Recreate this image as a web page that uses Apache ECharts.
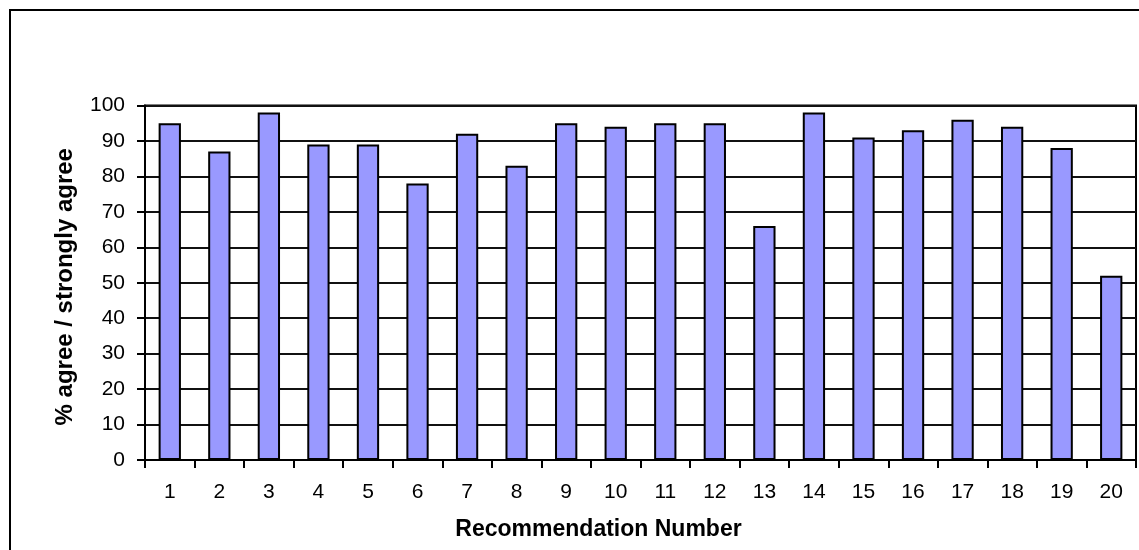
<!DOCTYPE html>
<html>
<head>
<meta charset="utf-8">
<script src="https://cdn.jsdelivr.net/npm/echarts@6/dist/echarts.min.js"></script>
<style>
  html, body { margin: 0; padding: 0; background: #fff; }
  #chart { width: 1139px; height: 550px; }
</style>
</head>
<body>
<div id="chart"></div>
<script>
// Recommendation numbers along the x axis
const recommendations = ['1','2','3','4','5','6','7','8','9','10','11','12','13','14','15','16','17','18','19','20'];
// Share of respondents who agree or strongly agree (%)
const agreePct = [95, 87, 98, 89, 89, 78, 92, 83, 95, 94, 95, 95, 66, 98, 91, 93, 96, 94, 88, 52];
// Value axis range
const yMin = 0, yMax = 100, yStep = 10;

const chart = echarts.init(document.getElementById('chart'), null, { renderer: 'canvas' });
const font = 'Arial, "Liberation Sans", sans-serif';

chart.setOption({
  animation: false,
  backgroundColor: '#fff',
  graphic: [{
    type: 'rect',
    shape: { x: 10, y: 10, width: 1200, height: 600 },
    style: { fill: 'none', stroke: '#000', lineWidth: 2 },
    silent: true
  }],
  grid: {
    left: 145, right: 3, top: 105.5, bottom: 90,
    outerBoundsMode: 'none',
    containLabel: false,
    show: true, borderColor: '#000', borderWidth: 2, backgroundColor: 'transparent'
  },
  xAxis: {
    type: 'category',
    data: recommendations,
    name: 'Recommendation Number',
    nameLocation: 'middle',
    nameGap: 58,
    nameTextStyle: { fontFamily: font, fontWeight: 'bold', fontSize: 23, color: '#000', padding: [0, 84, 0, 0] },
    axisLine: { lineStyle: { color: '#000', width: 2 } },
    axisTick: { show: true, alignWithLabel: false, length: 8, lineStyle: { color: '#000', width: 2 } },
    axisLabel: { fontFamily: font, fontSize: 21, color: '#000', margin: 22 },
    splitLine: { show: false }
  },
  yAxis: {
    type: 'value',
    min: yMin, max: yMax, interval: yStep,
    name: '% agree / strongly agree',
    nameLocation: 'middle',
    nameGap: 68,
    nameTextStyle: { fontFamily: font, fontWeight: 'bold', fontSize: 24, color: '#000', padding: [0, 8, 0, 0] },
    axisLine: { show: true, lineStyle: { color: '#000', width: 2 } },
    axisTick: { show: true, length: 8, lineStyle: { color: '#000', width: 2 } },
    axisLabel: { fontFamily: font, fontSize: 21, color: '#000', margin: 20 },
    splitLine: { show: true, lineStyle: { color: '#111', width: 2 } }
  },
  series: [{
    type: 'bar',
    data: agreePct,
    barWidth: '45%',
    itemStyle: { color: '#9999FF', borderColor: '#000', borderWidth: 2 }
  }]
});
</script>
</body>
</html>
